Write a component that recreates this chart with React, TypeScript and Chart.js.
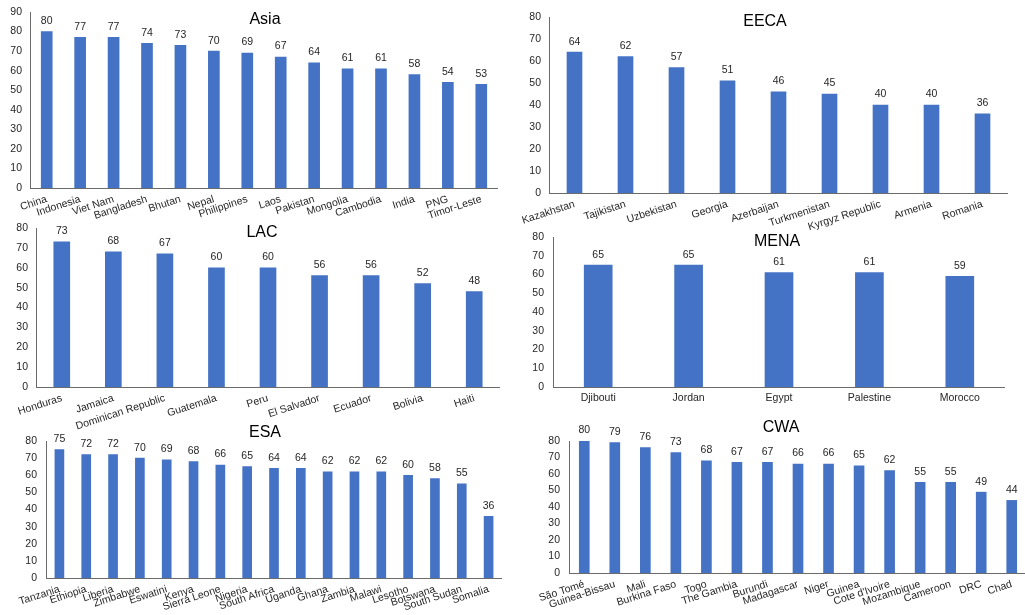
import { useEffect, useRef } from "react";
import { Chart, registerables } from "chart.js";

Chart.register(...registerables);

// ---- data ----
const asiaCountries = ["China", "Indonesia", "Viet Nam", "Bangladesh", "Bhutan", "Nepal", "Philippines", "Laos", "Pakistan", "Mongolia", "Cambodia", "India", "PNG", "Timor-Leste"];
const asiaValues = [80, 77, 77, 74, 73, 70, 69, 67, 64, 61, 61, 58, 54, 53];

const eecaCountries = ["Kazakhstan", "Tajikistan", "Uzbekistan", "Georgia", "Azerbaijan", "Turkmenistan", "Kyrgyz Republic", "Armenia", "Romania"];
const eecaValues = [64, 62, 57, 51, 46, 45, 40, 40, 36];

const lacCountries = ["Honduras", "Jamaica", "Dominican Republic", "Guatemala", "Peru", "El Salvador", "Ecuador", "Bolivia", "Haiti"];
const lacValues = [73, 68, 67, 60, 60, 56, 56, 52, 48];

const menaCountries = ["Djibouti", "Jordan", "Egypt", "Palestine", "Morocco"];
const menaValues = [65, 65, 61, 61, 59];

const esaCountries = ["Tanzania", "Ethiopia", "Liberia", "Zimbabwe", "Eswatini", "Kenya", "Sierra Leone", "Nigeria", "South Africa", "Uganda", "Ghana", "Zambia", "Malawi", "Lesotho", "Botswana", "South Sudan", "Somalia"];
const esaValues = [75, 72, 72, 70, 69, 68, 66, 65, 64, 64, 62, 62, 62, 60, 58, 55, 36];

const cwaCountries = ["São Tomé", "Guinea-Bissau", "Mali", "Burkina Faso", "Togo", "The Gambia", "Burundi", "Madagascar", "Niger", "Guinea", "Cote d'Ivoire", "Mozambique", "Cameroon", "DRC", "Chad"];
const cwaValues = [80, 79, 76, 73, 68, 67, 67, 66, 66, 65, 62, 55, 55, 49, 44];

// ---- styling ----
const FONT = "'Liberation Sans', Arial, Helvetica, sans-serif";
const BAR = "#4472C4";
const TEXT = "#262626";
const AXIS = "#6b6b6b";
const PAD_TOP = 30;

type Panel = {
  title: string;
  labels: string[];
  values: number[];
  yMax: number;
  // plot area in page pixels
  plotLeft: number;
  plotTop: number;
  plotRight: number;
  plotBottom: number;
  yAxisWidth: number;
  xAxisHeight: number;
  yPad: number;
  barThickness: number;
  rotation: number;
  titleX: number;
  titleY: number;
};

const panels: Panel[] = [
  { title: "Asia", labels: asiaCountries, values: asiaValues, yMax: 90, plotLeft: 30, plotTop: 12, plotRight: 498, plotBottom: 188, yAxisWidth: 30, xAxisHeight: 45, yPad: 8, barThickness: 11, rotation: 18, titleX: 265, titleY: 20 },
  { title: "EECA", labels: eecaCountries, values: eecaValues, yMax: 80, plotLeft: 549, plotTop: 17, plotRight: 1008, plotBottom: 193, yAxisWidth: 39, xAxisHeight: 45, yPad: 8, barThickness: 15, rotation: 18, titleX: 765, titleY: 22 },
  { title: "LAC", labels: lacCountries, values: lacValues, yMax: 80, plotLeft: 36, plotTop: 228, plotRight: 500, plotBottom: 387, yAxisWidth: 36, xAxisHeight: 45, yPad: 8, barThickness: 16, rotation: 18, titleX: 262, titleY: 233 },
  { title: "MENA", labels: menaCountries, values: menaValues, yMax: 80, plotLeft: 553, plotTop: 237, plotRight: 1005, plotBottom: 387, yAxisWidth: 43, xAxisHeight: 25, yPad: 9, barThickness: 28, rotation: 0, titleX: 777, titleY: 242 },
  { title: "ESA", labels: esaCountries, values: esaValues, yMax: 80, plotLeft: 46, plotTop: 441, plotRight: 502, plotBottom: 578, yAxisWidth: 46, xAxisHeight: 37, yPad: 9, barThickness: 9, rotation: 18, titleX: 265, titleY: 433 },
  { title: "CWA", labels: cwaCountries, values: cwaValues, yMax: 80, plotLeft: 569, plotTop: 441, plotRight: 1027, plotBottom: 573, yAxisWidth: 59, xAxisHeight: 42, yPad: 9, barThickness: 10, rotation: 18, titleX: 781, titleY: 428 },
];

function BarPanel({ p }: { p: Panel }) {
  const ref = useRef<HTMLCanvasElement | null>(null);

  const left = p.plotLeft - p.yAxisWidth;
  const top = p.plotTop - PAD_TOP;
  const width = p.plotRight - left;
  const height = p.plotBottom - top + p.xAxisHeight;

  useEffect(() => {
    if (!ref.current) return;

    // value labels above the bars plus the panel title
    const annotate = {
      id: "annotate",
      afterDatasetsDraw(chart: any) {
        const ctx = chart.ctx;
        const meta = chart.getDatasetMeta(0);
        ctx.save();
        ctx.fillStyle = TEXT;
        ctx.textAlign = "center";
        ctx.textBaseline = "middle";
        ctx.font = `10.5px ${FONT}`;
        meta.data.forEach((el: any, i: number) => {
          ctx.fillText(String(p.values[i]), el.x, el.y - 10.5);
        });
        ctx.font = `16px ${FONT}`;
        ctx.fillStyle = "#000";
        ctx.fillText(p.title, p.titleX - left, p.titleY - top);
        ctx.restore();
      },
    };

    const chart = new Chart(ref.current, {
      type: "bar",
      data: {
        labels: p.labels,
        datasets: [
          {
            data: p.values,
            backgroundColor: BAR,
            borderWidth: 0,
            barThickness: p.barThickness,
          },
        ],
      },
      options: {
        animation: false,
        responsive: false,
        layout: { padding: { top: PAD_TOP, right: 0, left: 0, bottom: 0 } },
        plugins: {
          legend: { display: false },
          tooltip: { enabled: false },
          title: { display: false },
        },
        scales: {
          x: {
            grid: { display: false, drawTicks: false },
            border: { display: true, color: AXIS, width: 1 },
            ticks: {
              autoSkip: false,
              minRotation: p.rotation,
              maxRotation: p.rotation,
              padding: 5,
              color: TEXT,
              font: { family: FONT, size: 10.5 },
            },
            afterFit: (s: any) => {
              s.height = p.xAxisHeight;
            },
          },
          y: {
            min: 0,
            max: p.yMax,
            grid: { display: false, drawTicks: false },
            border: { display: true, color: AXIS, width: 1 },
            ticks: {
              stepSize: 10,
              autoSkip: false,
              padding: p.yPad,
              color: TEXT,
              font: { family: FONT, size: 10.5 },
            },
            afterFit: (s: any) => {
              s.width = p.yAxisWidth;
            },
          },
        },
      },
      plugins: [annotate],
    });

    return () => chart.destroy();
  }, [p]);

  return (
    <canvas
      ref={ref}
      width={width}
      height={height}
      style={{ position: "absolute", left, top, width, height }}
    />
  );
}

export default function App() {
  return (
    <div style={{ position: "absolute", left: 0, top: 0, width: 1025, height: 615, background: "#fff", overflow: "hidden" }}>
      {panels.map((p) => (
        <BarPanel key={p.title} p={p} />
      ))}
    </div>
  );
}
